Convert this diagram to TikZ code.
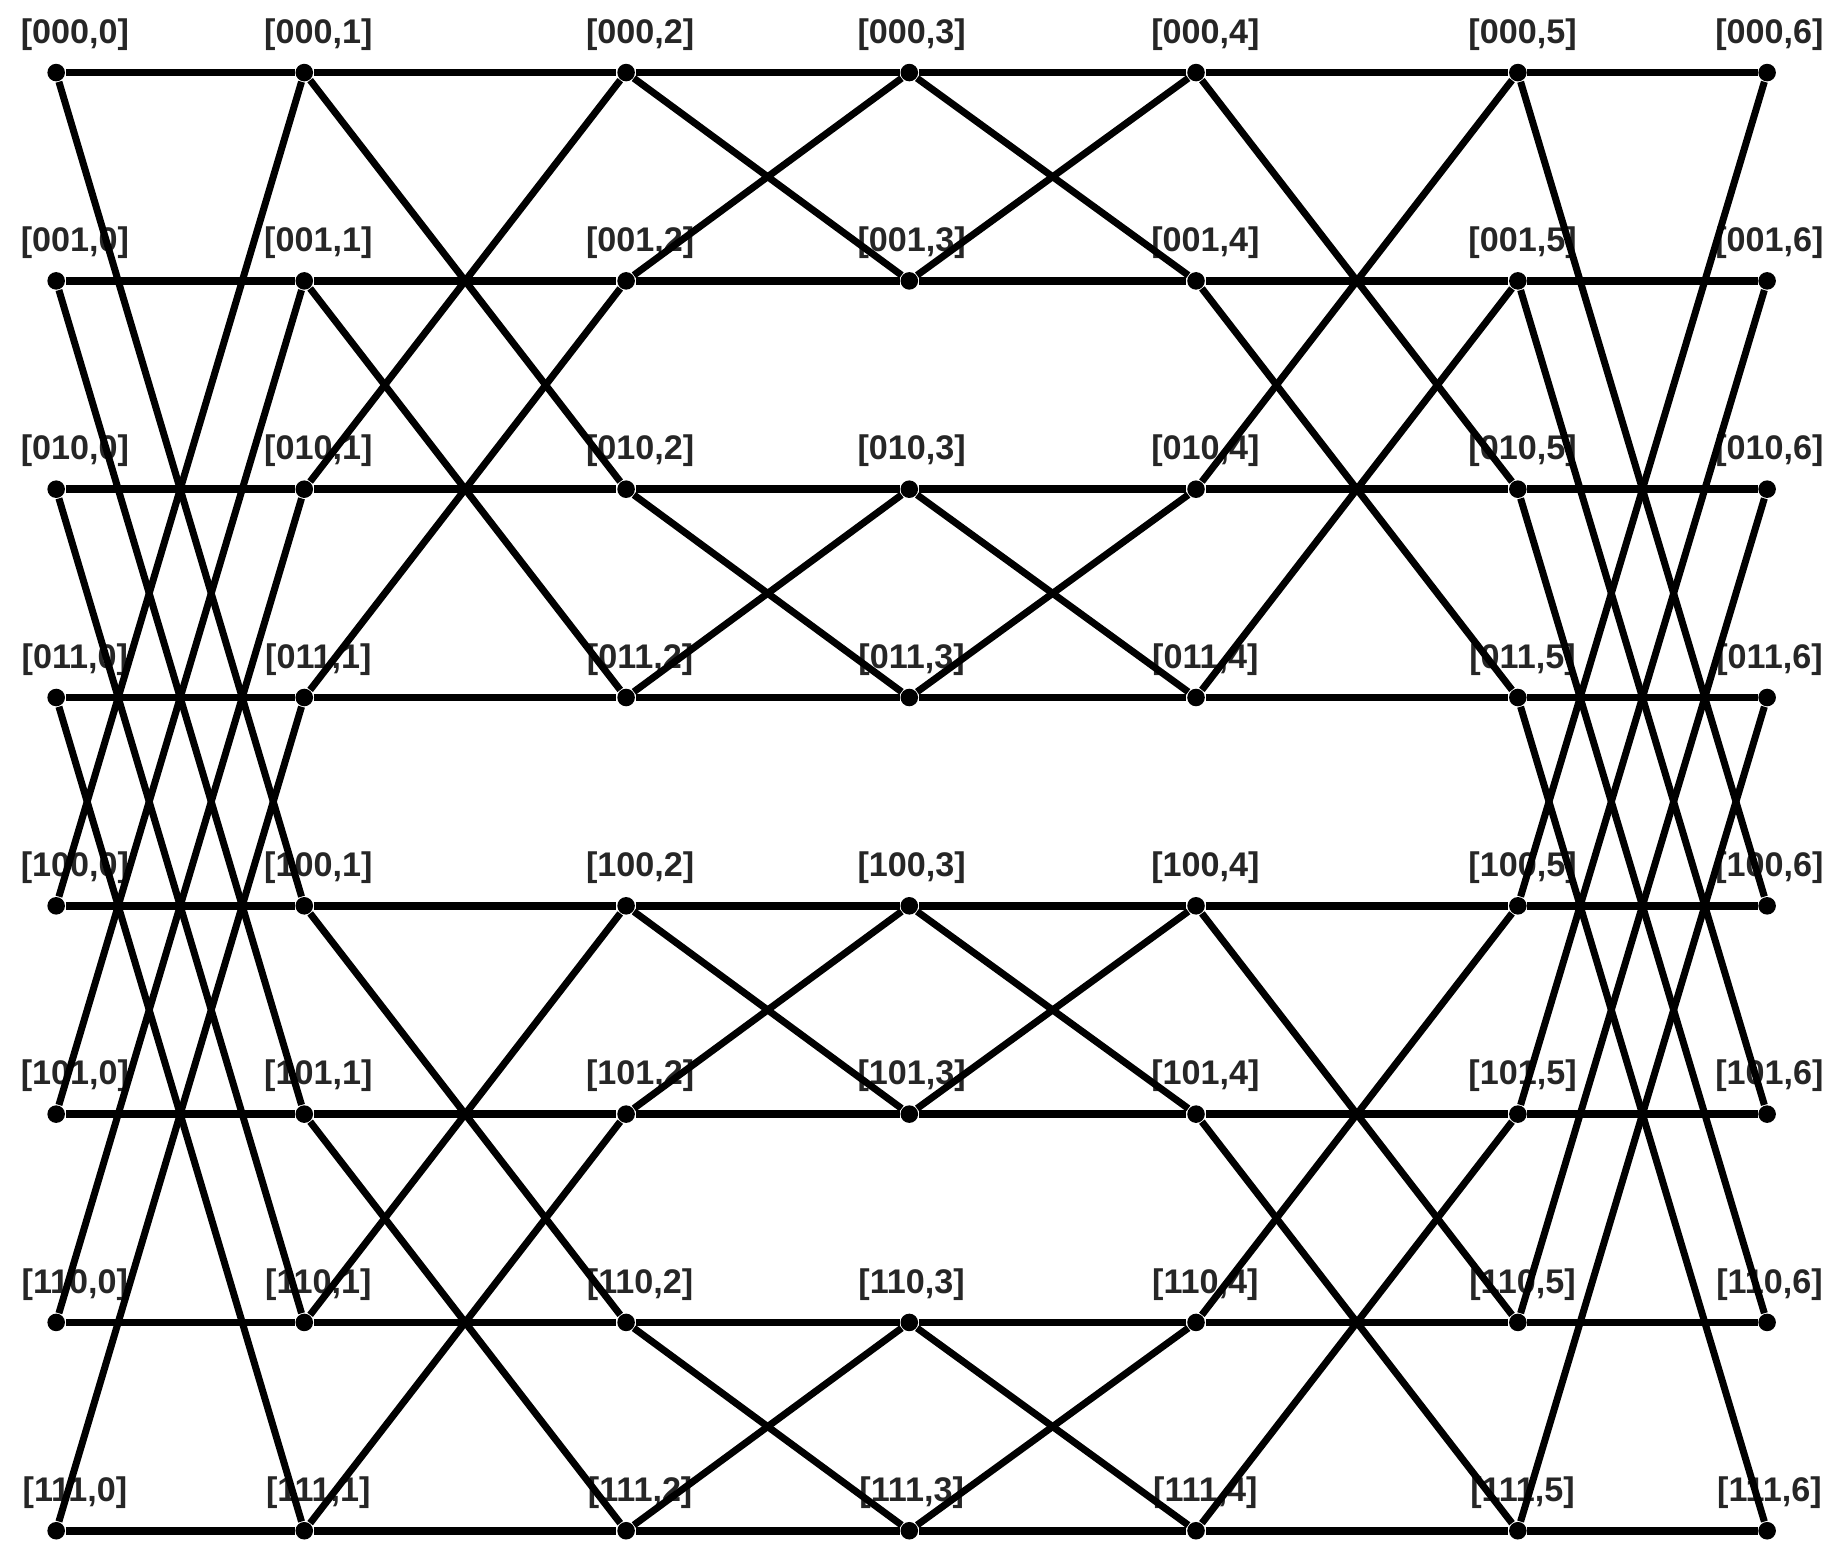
\documentclass[tikz,border=0pt]{standalone}
\usepackage{fontspec}
\newfontfamily\lblfont{Liberation Sans}
\usetikzlibrary{positioning}
\tikzset{
  sw/.style={circle, fill=black, inner sep=0pt, minimum size=0.15cm}, % one switch of the network
  lbl/.style={font=\lblfont\bfseries\fontsize{8.3}{9}\selectfont, text=black!85, inner sep=0pt, label distance=0.1cm}, % address labels
  wire/.style={line width=1.9pt}, % straight links
  cross/.style={line width=1.7pt}, % exchange links
}

\begin{document}
\begin{tikzpicture}[x=0.01cm, y=-0.01cm]
    \useasboundingbox (0,0) rectangle (1568,1332);

    % switches, one row per address
    \foreach \r/\b in {0/000,1/001,2/010,3/011,4/100,5/101,6/110,7/111}{
      \foreach \c/\x/\dx in {0/48/16,1/260/12,2/535/12,3/777/2,4/1022/8,5/1297/4,6/1510/2}{
        \node[sw, label={[lbl, xshift=\dx*0.01cm]above:{[\b,\c]}}] (n\r\c) at (\x, 62+178*\r) {};
      }
    }

    % straight links
    \foreach \r in {0,...,7}
      \draw[wire] (n\r0) -- (n\r1) -- (n\r2) -- (n\r3) -- (n\r4) -- (n\r5) -- (n\r6);

    % exchange links: stage s flips the bit of weight d
    \foreach \s/\d in {0/4,1/2,2/1,3/1,4/2,5/4}{
      \pgfmathtruncatemacro\t{\s+1}
      \foreach \r in {0,...,7}{
        \pgfmathtruncatemacro\p{mod(floor(\r/\d),2)==0 ? \r+\d : \r-\d}
        \draw[cross] (n\r\s) -- (n\p\t);
      }
    }
\end{tikzpicture}
\end{document}
